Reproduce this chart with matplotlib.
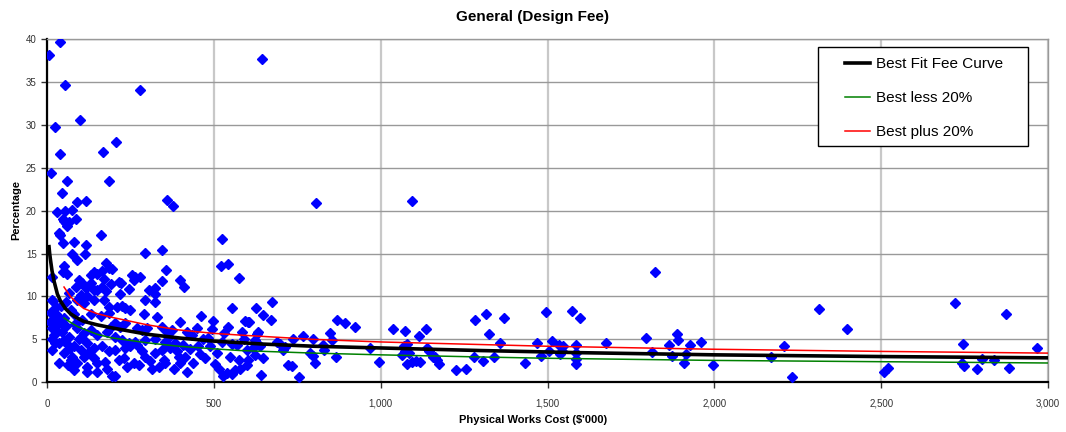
import matplotlib
matplotlib.use("Agg")
import matplotlib.pyplot as plt
from matplotlib.ticker import FuncFormatter, MultipleLocator
from matplotlib.patches import Rectangle

plt.rcParams['font.family'] = ['Liberation Sans', 'DejaVu Sans']

# ---------------- data ----------------
title = "General (Design Fee)"
x_label = "Physical Works Cost ($'000)"
y_label = "Percentage"

# scatter points (cost in $'000, fee percentage)
cost = [
    7, 39, 55, 100, 25, 39, 12, 59, 45, 89, 116, 167, 208, 186, 278, 361, 378, 645, 807, 1093,
    31, 53, 76, 47, 56, 66, 60, 52, 86, 36, 39, 161, 48, 81, 116, 76, 114, 89, 176, 186, 51, 16, 49, 61,
    131, 141, 151, 166,
    16, 26, 41, 56, 71, 91, 111, 141, 171, 186, 96, 106, 86, 116, 131, 151, 166, 176, 191, 66, 101, 121,
    11, 26, 36, 21, 51, 81, 106, 131, 161, 186, 16, 31, 46, 66, 91, 111, 131, 151, 181, 191, 21, 51,
    16, 36, 61, 81, 101, 121, 141, 166, 186, 51, 76, 111, 71, 91, 121, 151, 81, 121, 151, 181, 196, 36,
    12, 19, 10, 14, 30, 44, 58, 70, 95, 125, 140, 175, 23, 63, 84, 104, 142, 171,
    195, 295, 345, 357, 255, 265, 280, 260, 215, 223, 245, 220, 305, 325, 345, 323, 293, 325,
    210, 225, 235, 250, 290, 330, 205, 220, 235, 270, 285, 300, 345, 360, 375,
    205, 225, 245, 265, 295, 325, 355, 385, 205, 235, 250, 285, 325, 345, 370, 390,
    215, 240, 260, 275, 295, 315, 335, 355, 380, 395, 205, 230, 310, 350, 270, 365,
    399, 411, 524, 522, 542, 574, 554, 461, 399, 499, 594, 604, 419, 449, 494, 542, 584, 434, 469, 484,
    524, 554, 569, 589, 409, 414, 454, 459, 489, 509, 549, 599, 399, 439, 504, 574, 599, 419, 514, 527,
    539, 554, 564, 579, 430, 475, 530,
    673, 625, 648, 670, 603, 868, 893, 633, 628, 848, 623, 638, 618, 603, 623, 688, 698, 708, 713, 738,
    768, 798, 788, 798, 803, 828, 831, 853, 865, 646, 723, 733, 640, 756,
    924, 969, 994, 1036, 1074, 1079, 1069, 1064, 1074, 1084, 1079, 1094, 1107, 1119, 1116, 1136, 1139,
    1144, 1157, 1169, 1174, 1164, 1227, 1257, 1279, 1307, 1339, 1284, 1317, 1324, 1371, 1359, 1434,
    1469, 1481, 1496, 1504, 1514, 1534, 1537, 1547, 1544, 1574, 1596, 1584, 1584, 1584, 1586, 1676,
    1796, 1814, 1821, 1864, 1874, 1887, 1891, 1909, 1916, 1926, 1961, 1995, 2169, 2208, 2234, 2314,
    2397, 2509, 2521, 2720, 2744, 2741, 2749, 2787, 2801, 2837, 2875, 2882, 2968,
]
fee = [
    38.1, 39.6, 34.6, 30.6, 29.8, 26.6, 24.4, 23.4, 22.0, 21.0, 21.1, 26.8, 28.0, 23.4, 34.1, 21.2, 20.5, 37.7, 20.9, 21.1,
    19.9, 20.0, 20.1, 19.0, 18.6, 18.7, 18.2, 18.8, 19.0, 17.4, 17.2, 17.2, 16.2, 16.3, 16.0, 15.0, 14.9, 14.3, 13.9, 13.3, 13.6, 12.3, 12.8, 12.6,
    12.5, 12.8, 12.6, 13.0,
    9.6, 8.8, 8.9, 9.4, 8.4, 9.6, 9.2, 9.6, 9.6, 8.8, 11.9, 11.6, 11.1, 11.0, 11.6, 10.8, 11.1, 10.6, 11.4, 10.4, 10.2, 10.0,
    8.2, 7.9, 7.5, 7.1, 7.5, 7.9, 7.3, 7.9, 7.7, 8.1, 6.3, 6.7, 5.9, 5.3, 6.3, 5.7, 6.1, 5.5, 5.9, 6.5, 5.5, 4.9,
    3.8, 4.6, 4.5, 4.2, 3.8, 4.6, 4.0, 4.2, 3.6, 3.4, 3.0, 3.0, 2.6, 2.2, 1.8, 2.2, 1.4, 1.2, 1.2, 1.6, 0.7, 2.2,
    8.1, 9.5, 7.0, 5.0, 6.0, 6.9, 6.6, 4.0, 5.0, 3.5, 2.8, 2.4, 4.6, 2.0, 6.8, 5.2, 10.7, 12.0,
    13.2, 15.1, 15.4, 13.1, 12.5, 12.3, 12.3, 11.9, 11.7, 11.6, 10.9, 10.3, 10.7, 11.0, 11.8, 10.3, 9.6, 9.3,
    8.8, 8.9, 8.6, 8.4, 7.9, 7.6, 6.9, 6.5, 6.9, 6.3, 6.1, 6.3, 6.5, 5.9, 6.1,
    5.3, 4.9, 4.6, 4.7, 4.9, 5.1, 4.7, 4.6, 3.8, 4.0, 4.2, 3.6, 3.4, 3.8, 4.0, 3.6,
    2.6, 1.8, 2.2, 2.0, 3.0, 1.6, 1.8, 2.2, 1.6, 3.0, 0.7, 2.8, 2.5, 2.6, 4.4, 5.3,
    11.9, 11.1, 16.7, 13.5, 13.8, 12.2, 8.6, 7.7, 7.0, 7.1, 7.1, 7.0, 5.9, 6.3, 6.2, 6.4, 5.9, 5.5, 5.1, 5.2,
    4.7, 4.5, 4.4, 5.0, 4.4, 3.0, 4.2, 3.3, 4.2, 3.4, 3.0, 3.8, 2.2, 2.3, 2.1, 2.6, 2.0, 1.2, 1.6, 0.7,
    1.1, 1.0, 1.4, 1.6, 3.9, 2.8, 5.8,
    9.3, 8.7, 7.8, 7.3, 7.0, 7.3, 6.9, 5.9, 5.6, 5.8, 4.9, 4.2, 4.0, 2.6, 3.2, 4.7, 4.5, 3.8, 4.1, 5.0,
    5.4, 5.1, 3.4, 3.1, 2.3, 4.4, 3.8, 4.9, 2.9, 2.8, 2.0, 1.9, 0.8, 0.6,
    6.5, 4.0, 2.4, 6.2, 6.0, 4.5, 4.2, 3.2, 3.6, 3.4, 2.1, 2.4, 2.5, 2.4, 5.4, 6.2, 4.0,
    3.6, 3.0, 2.6, 2.1, 2.9, 1.4, 1.6, 2.9, 2.5, 3.0, 7.3, 8.0, 5.6, 7.5, 4.6, 2.3,
    4.6, 3.1, 8.2, 3.7, 4.8, 4.4, 3.3, 4.2, 3.6, 8.3, 7.5, 4.4, 3.4, 2.7, 2.1, 4.6,
    5.2, 3.5, 12.8, 4.4, 3.1, 5.6, 4.9, 2.2, 3.3, 4.4, 4.7, 2.0, 3.0, 4.2, 0.6, 8.5,
    6.2, 1.2, 1.7, 9.2, 4.5, 2.3, 1.9, 1.6, 2.7, 2.6, 8.0, 1.7, 4.0,
]

# best fit curve
fit_x = [6, 8, 11, 15, 21, 31, 40, 55, 70, 90, 110, 150, 200, 300, 400, 500, 650, 800, 1000, 1300, 1600, 2000, 2500, 3000]
fit_y = [15.8, 15.0, 14.1, 13.0, 11.8, 10.3, 9.5, 8.6, 8.0, 7.5, 7.1, 6.7, 6.3, 5.6, 5.15, 4.8, 4.45, 4.2, 4.0, 3.7, 3.45, 3.2, 3.0, 2.85]

band_x = [51, 70, 91, 110, 150, 191, 300, 395, 500, 579, 800, 1000, 1300, 1500, 2000, 2500, 3000]
plus_y = [11.1, 10.0, 9.2, 8.6, 8.0, 7.6, 6.7, 6.1, 5.7, 5.5, 5.0, 4.7, 4.4, 4.2, 3.85, 3.6, 3.4]
less_y = [7.5, 7.0, 6.5, 6.2, 5.6, 5.2, 4.6, 4.2, 3.9, 3.7, 3.4, 3.2, 2.95, 2.8, 2.55, 2.4, 2.25]

series_labels = ["Best Fit Fee Curve", "Best less 20%", "Best plus 20%"]

# ---------------- figure ----------------
W, H = 1066, 432
fig = plt.figure(figsize=(W / 100, H / 100), dpi=100)
ax = fig.add_axes([47 / W, 1 - 382.3 / H, (1048 - 47) / W, (382.3 - 39) / H])

ax.set_xlim(0, 3000)
ax.set_ylim(0, 40)

ax.xaxis.set_major_locator(MultipleLocator(500))
ax.yaxis.set_major_locator(MultipleLocator(5))
ax.xaxis.set_major_formatter(FuncFormatter(lambda v, p: f"{int(v):,}"))

ax.grid(axis='y', color='#999999', linewidth=1.0, zorder=0)
ax.grid(axis='x', color='#c8c8c8', linewidth=1.6, zorder=0)
ax.set_axisbelow(True)

for side in ['top', 'right']:
    ax.spines[side].set_color('#999999')
    ax.spines[side].set_linewidth(1.0)
for side in ['left', 'bottom']:
    ax.spines[side].set_color('black')
    ax.spines[side].set_linewidth(1.6)

ax.tick_params(axis='both', labelsize=7, colors='#333333', length=4, width=1, direction='out')
ax.tick_params(axis='x', pad=8)

ax.plot(cost, fee, linestyle='none', marker='D', markersize=5, color='#0000ff',
        markeredgecolor='#0000ff', zorder=3)

ax.plot(fit_x, fit_y, color='black', linewidth=2.6, label=series_labels[0], zorder=5)
ax.plot(band_x, less_y, color='#008000', linewidth=1.1, label=series_labels[1], zorder=4)
ax.plot(band_x, plus_y, color='#ff0000', linewidth=1.1, label=series_labels[2], zorder=4)

# legend frame drawn separately (wide horizontal padding as in the original)
frame = Rectangle((818 / W, 1 - 146 / H), (1028 - 818) / W, (146 - 47) / H,
                  transform=fig.transFigure, facecolor='white', edgecolor='black',
                  linewidth=1.0, zorder=9)
fig.patches.append(frame)

leg = fig.legend(loc='upper left', bbox_to_anchor=(845 / W, 1 - 57 / H),
                 fontsize=11, frameon=False,
                 labelspacing=1.32, handlelength=1.65, handletextpad=0.35, borderpad=0,
                 borderaxespad=0)
leg.set_zorder(10)

fig.text(0.5, 1 - 17 / H, title, ha='center', va='center', fontsize=11, fontweight='bold')
fig.text(533 / W, 1 - 420 / H, x_label, ha='center', va='center', fontsize=8, fontweight='bold')
fig.text(16 / W, 1 - 210 / H, y_label, ha='center', va='center', fontsize=8,
         fontweight='bold', rotation=90)

fig.savefig('out.png', dpi=100)
